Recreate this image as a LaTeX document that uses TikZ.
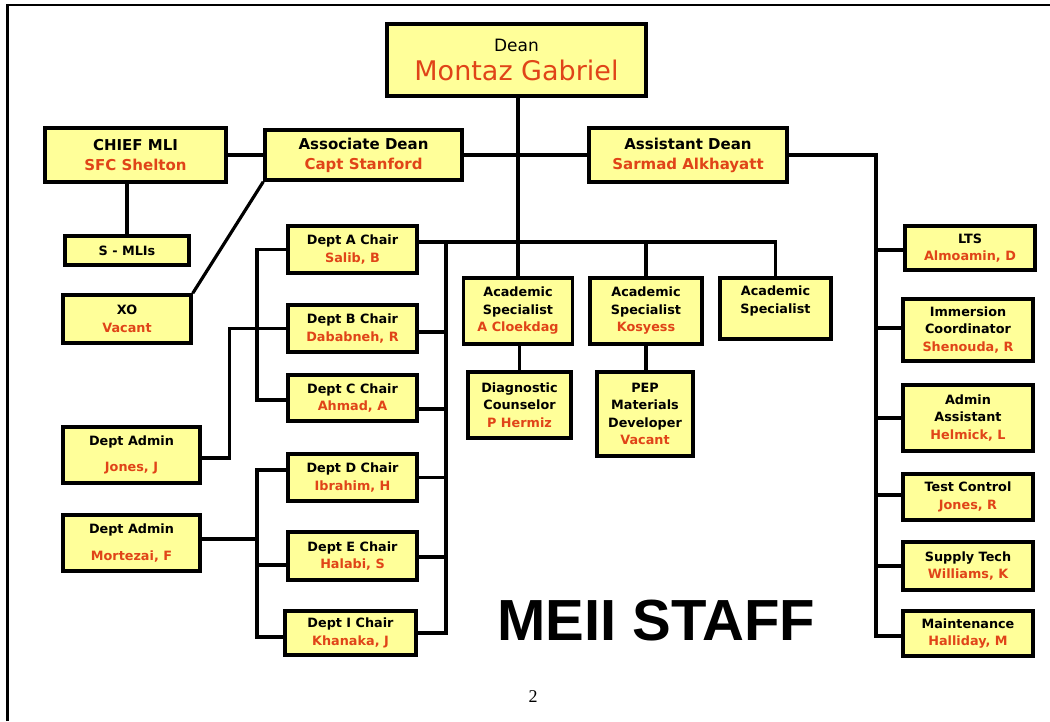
\documentclass[tikz,border=0pt]{standalone}
\usepackage{fontspec}
\setmainfont{DejaVu Sans}
\newfontfamily\lsans{Liberation Sans}
\newfontfamily\lserif{Liberation Serif}
\definecolor{nm}{RGB}{224,68,24}
\definecolor{bx}{RGB}{255,255,153}
\newcommand{\nm}[1]{\textcolor{nm}{#1}}
\begin{document}
\begin{tikzpicture}[x=1pt,y=-1pt,
  box/.style={draw=black, line width=3.5pt, fill=bx, align=center, inner sep=0pt,
    font=\bfseries\fontsize{12.8}{17.5}\selectfont},
  bigbox/.style={box, font=\bfseries\fontsize{15}{20}\selectfont},
  conn/.style={line width=3.2pt, draw=black},
  frame/.style={line width=2.5pt, draw=black}]
\useasboundingbox (0,0) rectangle (1050,721);
\draw[frame] (7.5,721) -- (7.5,5) -- (1050,5);

% top
\node[box, minimum width=259pt, minimum height=72pt, font=\mdseries] (dean) at (516.5,60)
  {{\fontsize{17}{17}\selectfont Dean}\\[8pt]{\fontsize{27}{27}\selectfont\nm{Montaz Gabriel}}};
\node[bigbox, minimum width=181pt, minimum height=54pt] (chief) at (135.5,155) {CHIEF MLI\\\nm{SFC Shelton}};
\node[bigbox, minimum width=197pt, minimum height=50pt] (assoc) at (363.5,155) {Associate Dean\\\nm{Capt Stanford}};
\node[bigbox, minimum width=198pt, minimum height=54pt] (asst) at (688,155) {Assistant Dean\\\nm{Sarmad Alkhayatt}};

% left
\node[box, minimum width=124pt, minimum height=29pt] (smlis) at (127,250.5) {S - MLIs};
\node[box, minimum width=128pt, minimum height=48pt] (xo) at (127,319) {XO\\\nm{Vacant}};
\node[box, minimum width=137pt, minimum height=56pt] (admin1) at (131.5,455) {Dept Admin\\[9pt]\nm{Jones, J}};
\node[box, minimum width=137pt, minimum height=56pt] (admin2) at (131.5,543) {Dept Admin\\[9pt]\nm{Mortezai, F}};

% dept chairs
\node[box, minimum width=129pt, minimum height=47pt] (deptA) at (352.5,249.5) {Dept A Chair\\\nm{Salib, B}};
\node[box, minimum width=129pt, minimum height=47pt] (deptB) at (352.5,328.5) {Dept B Chair\\\nm{Dababneh, R}};
\node[box, minimum width=129pt, minimum height=46pt] (deptC) at (352.5,398) {Dept C Chair\\\nm{Ahmad, A}};
\node[box, minimum width=129pt, minimum height=47pt] (deptD) at (352.5,477.5) {Dept D Chair\\\nm{Ibrahim, H}};
\node[box, minimum width=129pt, minimum height=48pt] (deptE) at (352.5,556) {Dept E Chair\\\nm{Halabi, S}};
\node[box, minimum width=131pt, minimum height=44pt] (deptI) at (350.5,633) {Dept I Chair\\\nm{Khanaka, J}};

% academic
\node[box, minimum width=109pt, minimum height=66pt] (acad1) at (518,311) {Academic\\Specialist\\\nm{A Cloekdag}};
\node[box, minimum width=112pt, minimum height=66pt] (acad2) at (646,311) {Academic\\Specialist\\\nm{Kosyess}};
\node[box, minimum width=111pt, minimum height=61pt] (acad3) at (775.5,308.5) {Academic\\Specialist\\\mbox{}};
\node[box, minimum width=103pt, minimum height=66pt] (diag) at (519.5,405) {Diagnostic\\Counselor\\\nm{P Hermiz}};
\node[box, minimum width=96pt, minimum height=84pt] (pep) at (645,414) {PEP\\Materials\\Developer\\\nm{Vacant}};

% right
\node[box, minimum width=130pt, minimum height=44pt] (lts) at (970,248) {LTS\\\nm{Almoamin, D}};
\node[box, minimum width=130pt, minimum height=62pt] (imm) at (968,330) {Immersion\\Coordinator\\\nm{Shenouda, R}};
\node[box, minimum width=130pt, minimum height=66pt] (aa) at (968,418) {Admin\\Assistant\\\nm{Helmick, L}};
\node[box, minimum width=130pt, minimum height=46pt] (tc) at (968,497) {Test Control\\\nm{Jones, R}};
\node[box, minimum width=130pt, minimum height=48pt] (st) at (968,566) {Supply Tech\\\nm{Williams, K}};
\node[box, minimum width=130pt, minimum height=45pt] (mt) at (968,633.5) {Maintenance\\\nm{Halliday, M}};

% title and page number
\node[inner sep=0pt] (title) at (656,621) {\lsans\bfseries\fontsize{58}{58}\selectfont MEII STAFF};
\node[inner sep=0pt] (pg) at (533,697) {\lserif\fontsize{18}{18}\selectfont 2};

% coordinates
\coordinate (hub) at (446,242);
\coordinate (rtop) at (876,155);
\coordinate (lbar) at (257,470);

% connectors
\draw[conn] (dean.south -| acad1.north) -- (acad1.north);
\draw[conn] (chief.east) -- (assoc.west);
\draw[conn] (assoc.east) -- (asst.west);
\draw[conn] (asst.east) -- (rtop) |- ([yshift=-2.5pt]mt.west);
\draw[conn] (rtop) |- ([yshift=-2pt]lts.west);
\draw[conn] (rtop) |- ([yshift=2pt]imm.west);
\draw[conn] (rtop) |- (aa.west);
\draw[conn] (rtop) |- ([yshift=2pt]tc.west);
\draw[conn] (rtop) |- (st.west);
\draw[conn] (chief.south -| smlis.north) -- (smlis.north);
\draw[conn] (assoc.south west) -- (xo.north east);
\draw[conn] (deptA.east |- hub) -- (hub) -| (acad3.north);
\draw[conn] (acad2.north) -- (acad2.north |- hub);
\draw[conn] (hub) |- (deptI.east);
\draw[conn] ([yshift=-3.5pt]deptB.east) -- ([yshift=-3.5pt]deptB.east -| hub);
\draw[conn] ([yshift=-11pt]deptC.east) -- ([yshift=-11pt]deptC.east -| hub);
\draw[conn] (deptD.east) -- (deptD.east -| hub);
\draw[conn] ([yshift=-1pt]deptE.east) -- ([yshift=-1pt]deptE.east -| hub);
\draw[conn] (deptA.west) -- (deptA.west -| lbar) |- ([yshift=-2pt]deptC.west);
\draw[conn] (deptB.west) -- ++(-57,0) |- ([yshift=-3pt]admin1.east);
\draw[conn] ([yshift=7.5pt]deptD.west) -- (lbar) |- ([yshift=-4pt]deptI.west);
\draw[conn] ([yshift=-9pt]deptE.west) -- ([yshift=-9pt]deptE.west -| lbar);
\draw[conn] ([yshift=4pt]admin2.east) -- ([yshift=4pt]admin2.east -| lbar);
\draw[conn] (acad1.south -| diag.north) -- (diag.north);
\draw[conn] (acad2.south) -- (acad2.south |- pep.north);
\end{tikzpicture}
\end{document}
